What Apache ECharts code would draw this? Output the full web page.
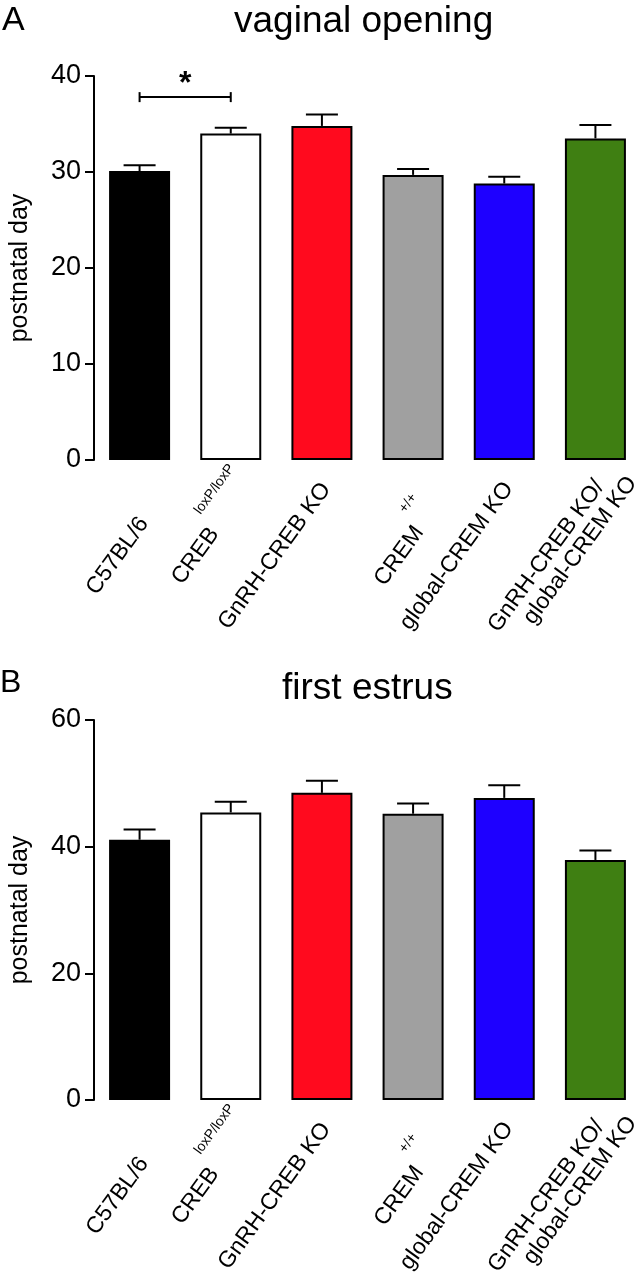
<!DOCTYPE html>
<html><head><meta charset="utf-8">
<script src="https://cdn.jsdelivr.net/npm/echarts@6/dist/echarts.min.js"></script>
<style>html,body{margin:0;padding:0;background:#fff}#c{width:641px;height:1280px}</style>
</head><body><div id="c"></div>
<script>
// ---------- data ----------
const labelMain  = ['C57BL/6', 'CREB', 'GnRH-CREB KO', 'CREM', 'global-CREM KO', 'GnRH-CREB KO/'];
const labelSup   = ['', 'loxP/loxP', '', '+/+', '', ''];
const labelLine2 = ['', '', '', '', '', 'global-CREM KO'];
const categories = labelMain.map((m, i) => m + labelSup[i] + (labelLine2[i] ? '\n' + labelLine2[i] : ''));
const barColors  = ['#000000', '#ffffff', '#ff0a1e', '#a0a0a0', '#1e00ff', '#3f7f12'];

const vagMean = [30.1, 34.0, 34.8, 29.7, 28.8, 33.5];
const vagSem  = [0.6, 0.6, 1.2, 0.6, 0.7, 1.4];
const estMean = [41.1, 45.4, 48.5, 45.2, 47.7, 37.9];
const estSem  = [1.6, 1.7, 1.9, 1.6, 2.0, 1.5];

const vagTicks = [0, 10, 20, 30, 40];
const estTicks = [0, 20, 40, 60];

const sigFrom = [0];
const sigTo   = [1];
const sigLevel = [37.8];
const sigText = ['*'];

const panelTitles = ['vaginal opening', 'first estrus'];
const panelLetters = ['A', 'B'];
const yName = 'postnatal day';

// ---------- helpers ----------
const FONT = '"Liberation Sans", Arial, Helvetica, sans-serif';
const mctx = document.createElement('canvas').getContext('2d');
function tw(t, fs) { mctx.font = fs + 'px ' + FONT; return mctx.measureText(t).width; }
const TH = 54 * Math.PI / 180, CO = Math.cos(TH), SI = Math.sin(TH);
const LFS = 23, SFS = 14;

function txt(t, x, y, fs) {
  return { type: 'text', x: x, y: y, rotation: TH,
    style: { text: t, fontSize: fs, fontFamily: FONT, fill: '#000', align: 'left', verticalAlign: 'middle' } };
}

function labelRender(params, api) {
  const i = params.dataIndex;
  const p = api.coord([i, 0]);
  const cx = p[0], y0 = p[1] + 96;
  const main = labelMain[i], sup = labelSup[i], l2 = labelLine2[i];
  const wm = tw(main, LFS), hm = 0.72 * LFS;
  const ay = y0 + wm * SI / 2;
  let ax;
  const children = [];
  const gap = 4, rise = 24;
  if (sup) {
    const ws = tw(sup, SFS), hs = 0.72 * SFS;
    ax = cx + 5 - ws * CO - hs / 2 * SI - (wm + gap) * CO + rise * SI;
    const sx = ax + (wm + gap) * CO - rise * SI;
    const sy = ay - (wm + gap) * SI - rise * CO;
    children.push(txt(sup, sx, sy, SFS));
  } else {
    ax = cx + 11 - wm * CO - hm / 2 * SI;
  }
  children.push(txt(main, ax, ay, LFS));
  if (l2) {
    const f = 27, dn = 24;
    children.push(txt(l2, ax + f * CO + dn * SI, ay - f * SI + dn * CO, LFS));
  }
  return { type: 'group', children: children };
}

function errRender(params, api) {
  const i = api.value(0), m = api.value(1), e = api.value(2);
  const b = api.coord([i, m]), t = api.coord([i, m + e]);
  const st = { stroke: '#000', lineWidth: 2 };
  return { type: 'group', children: [
    { type: 'line', shape: { x1: b[0], y1: b[1], x2: t[0], y2: t[1] }, style: st },
    { type: 'line', shape: { x1: t[0] - 16, y1: t[1], x2: t[0] + 16, y2: t[1] }, style: st }
  ] };
}

function sigRender(params, api) {
  const k = params.dataIndex;
  const a = api.coord([sigFrom[k], sigLevel[k]]), b = api.coord([sigTo[k], sigLevel[k]]);
  const st = { stroke: '#000', lineWidth: 2 };
  return { type: 'group', children: [
    { type: 'line', shape: { x1: a[0], y1: a[1], x2: b[0], y2: b[1] }, style: st },
    { type: 'line', shape: { x1: a[0], y1: a[1] - 5, x2: a[0], y2: a[1] + 5 }, style: st },
    { type: 'line', shape: { x1: b[0], y1: b[1] - 5, x2: b[0], y2: b[1] + 5 }, style: st },
    { type: 'text', x: (a[0] + b[0]) / 2, y: a[1] - 13,
      style: { text: sigText[k], fontSize: 32, fontWeight: 'bold', fontFamily: FONT, fill: '#000', align: 'center', verticalAlign: 'middle' } }
  ] };
}

function yAx(g, ticks) {
  return { type: 'value', gridIndex: g, min: ticks[0], max: ticks[ticks.length - 1], interval: ticks[1] - ticks[0],
    name: yName, nameLocation: 'middle', nameGap: 61,
    nameTextStyle: { fontSize: 25, color: '#000', fontFamily: FONT },
    axisLine: { show: true, lineStyle: { color: '#000', width: 2 } },
    axisTick: { show: true, length: 9, lineStyle: { color: '#000', width: 2 } },
    axisLabel: { fontSize: 27, color: '#000', margin: 13, fontFamily: FONT },
    splitLine: { show: false } };
}
function xAx(g) {
  return { type: 'category', gridIndex: g, data: categories,
    axisLine: { show: false }, axisTick: { show: false }, axisLabel: { show: false }, splitLine: { show: false } };
}
function bars(g, means) {
  return { type: 'bar', xAxisIndex: g, yAxisIndex: g, barWidth: 61, silent: true, animation: false,
    data: means.map((v, i) => ({ value: v, itemStyle: { color: barColors[i], borderColor: '#000', borderWidth: 2 } })) };
}
function errs(g, means, sems) {
  return { type: 'custom', xAxisIndex: g, yAxisIndex: g, renderItem: errRender, clip: false, silent: true, animation: false,
    data: means.map((v, i) => [i, v, sems[i]]) };
}
function labels(g) {
  return { type: 'custom', xAxisIndex: g, yAxisIndex: g, renderItem: labelRender, clip: false, silent: true, animation: false,
    data: categories.map((c, i) => [i, 0]) };
}

const ts = (fs) => ({ fontSize: fs, fontWeight: 'normal', color: '#000', fontFamily: FONT });

const option = {
  animation: false,
  backgroundColor: '#fff',
  title: [
    { text: panelLetters[0], left: 2, top: 4, padding: 0, textStyle: ts(34) },
    { text: panelTitles[0], left: 234, top: 3, padding: 0, textStyle: ts(37) },
    { text: panelLetters[1], left: 0, top: 667, padding: 0, textStyle: ts(32) },
    { text: panelTitles[1], left: 282, top: 670, padding: 0, textStyle: ts(37) }
  ],
  grid: [
    { left: 88, top: 76, width: 562, height: 384 },
    { left: 88, top: 720, width: 562, height: 380 }
  ],
  xAxis: [xAx(0), xAx(1)],
  yAxis: [yAx(0, vagTicks), yAx(1, estTicks)],
  series: [
    bars(0, vagMean), errs(0, vagMean, vagSem), labels(0),
    { type: 'custom', xAxisIndex: 0, yAxisIndex: 0, renderItem: sigRender, clip: false, silent: true, animation: false,
      data: sigFrom.map((f, k) => [f, sigLevel[k]]) },
    bars(1, estMean), errs(1, estMean, estSem), labels(1)
  ]
};
const chart = echarts.init(document.getElementById('c'), null, { renderer: 'canvas' });
chart.setOption(option);
</script></body></html>
